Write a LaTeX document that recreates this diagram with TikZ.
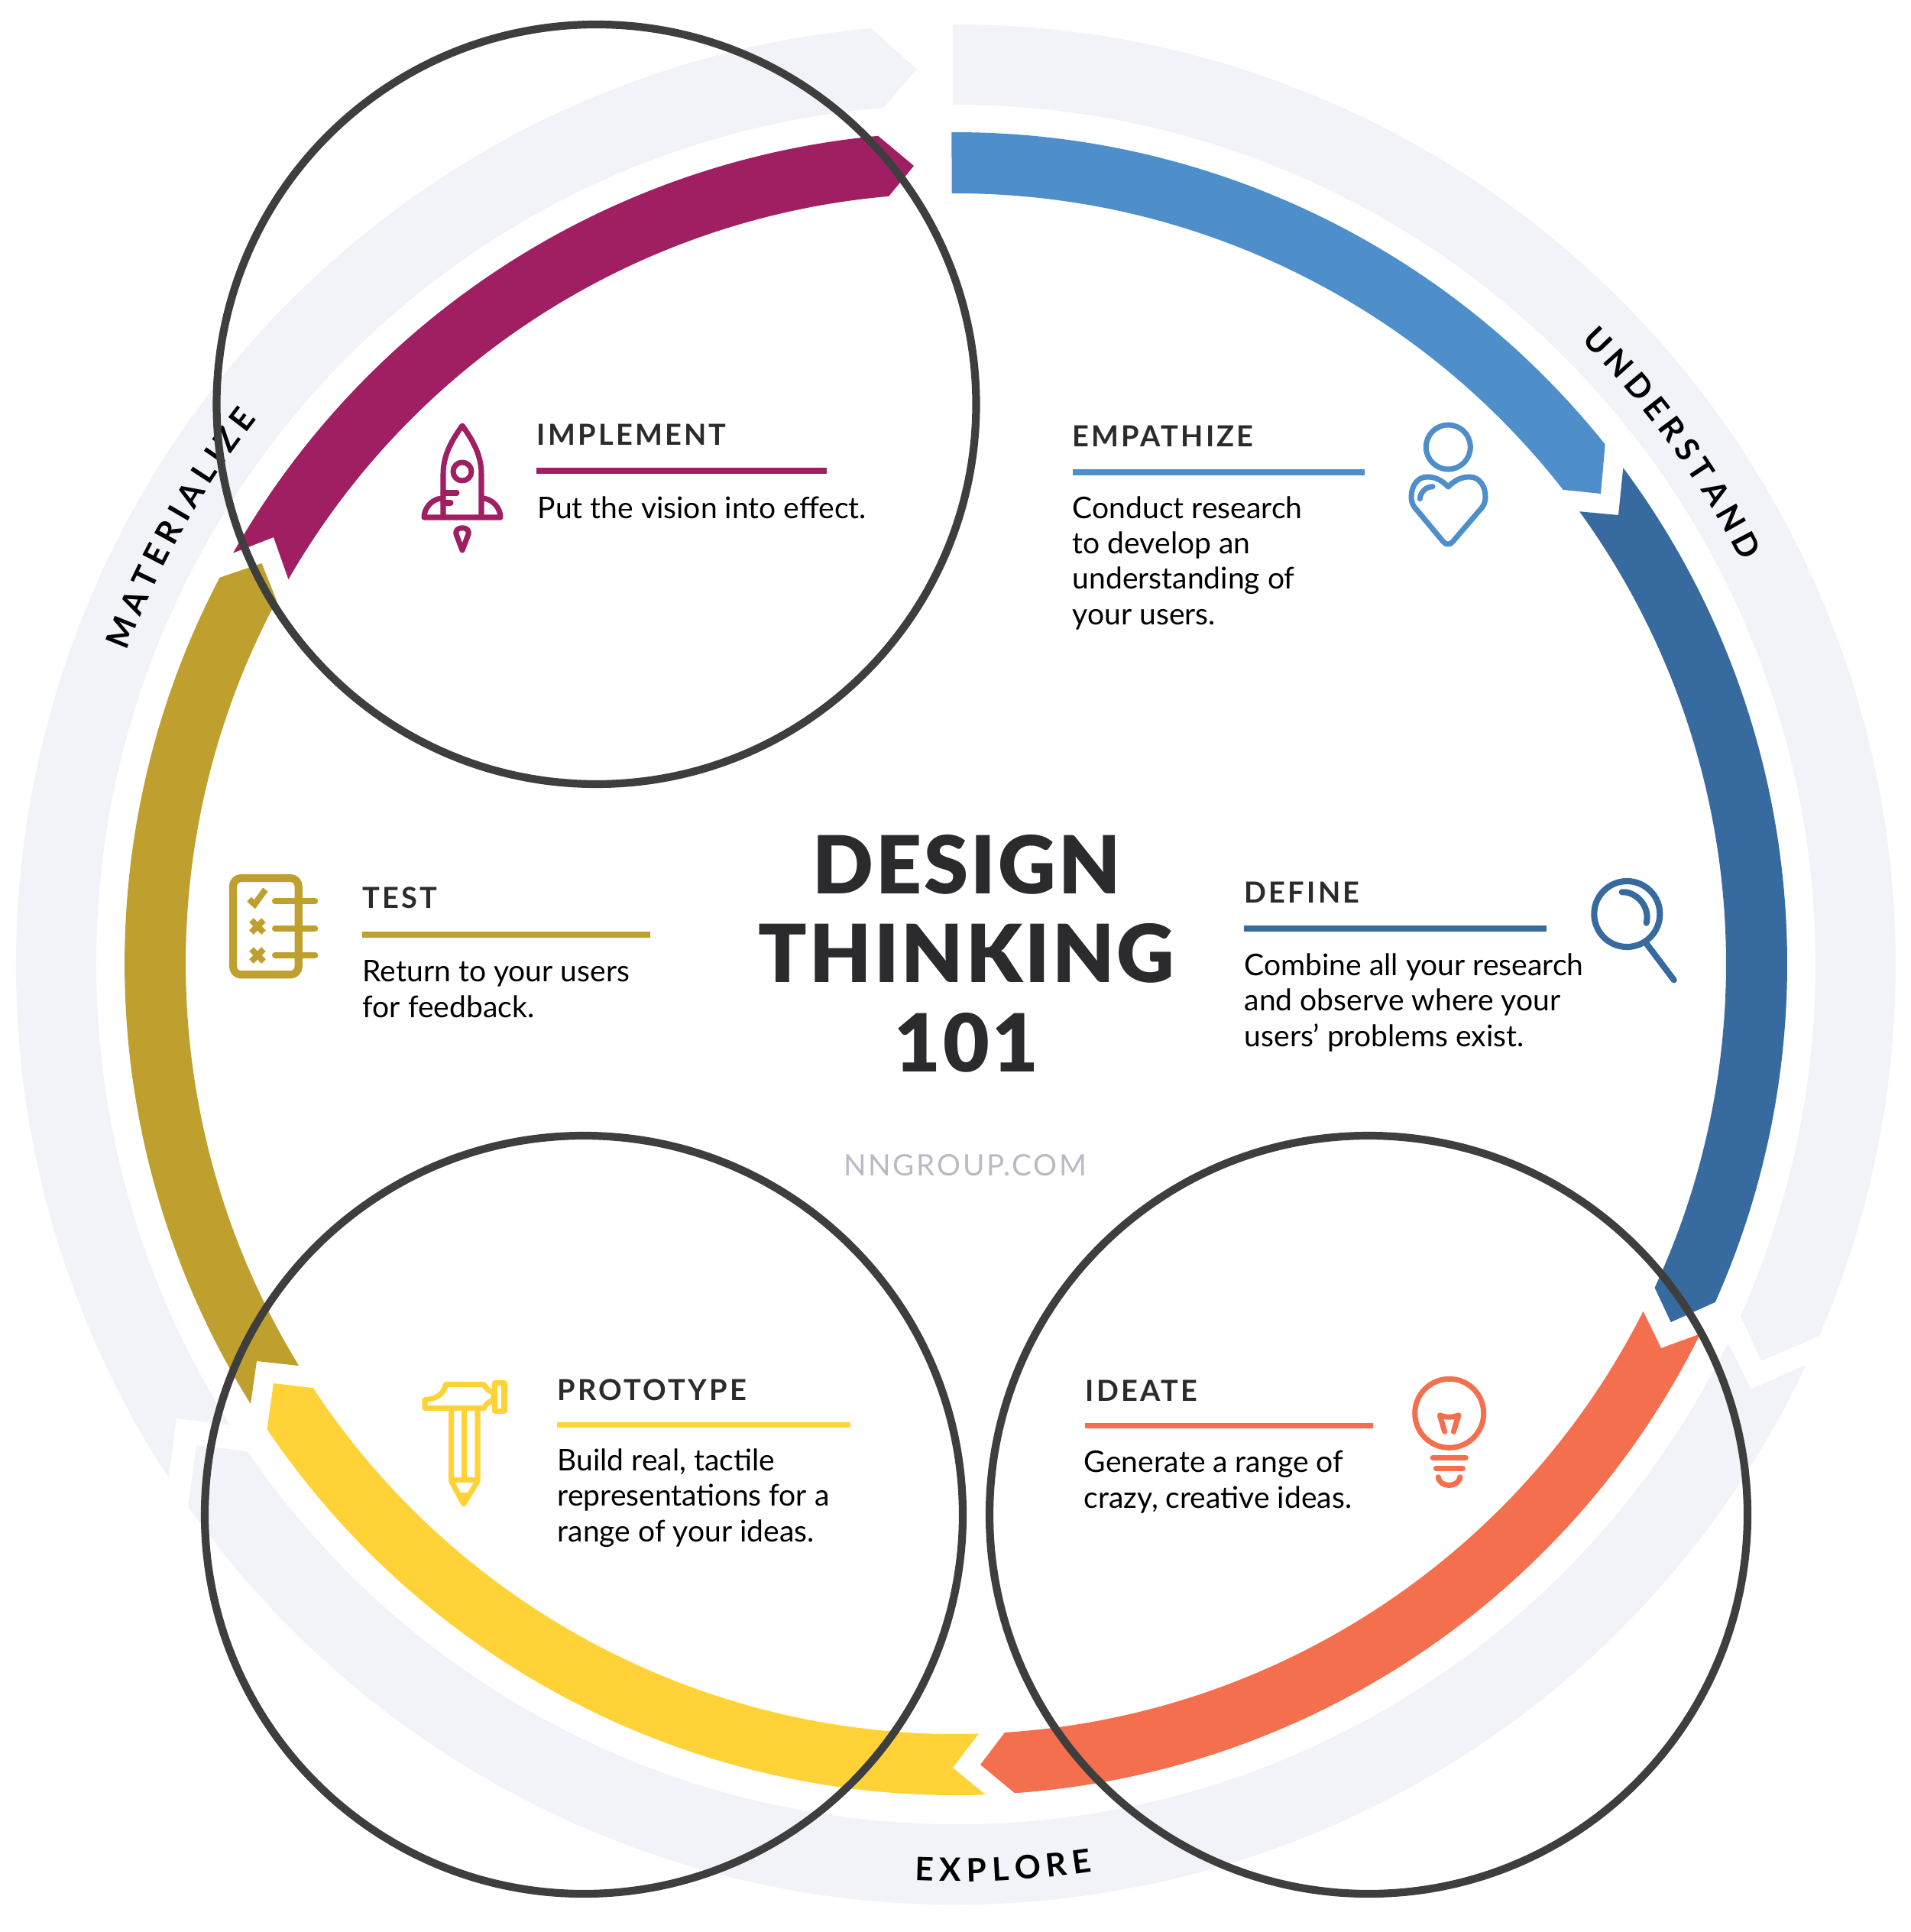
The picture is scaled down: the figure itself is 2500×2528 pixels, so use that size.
\documentclass[tikz,border=0pt]{standalone}
\usepackage{fontspec}
\usetikzlibrary{decorations.text}
\setmainfont{Lato}
\newfontfamily\arclabelfont{Lato}
\newfontfamily\headfont[LetterSpace=8.5]{Lato}
\newfontfamily\titlefont[LetterSpace=3]{Lato Black}
\newfontfamily\sitefont[LetterSpace=7]{Lato}
\definecolor{paleband}{HTML}{F2F3F9}
\definecolor{empathizec}{HTML}{4D8ECB}
\definecolor{definec}{HTML}{376A9E}
\definecolor{ideatec}{HTML}{F46F4E}
\definecolor{prototypec}{HTML}{FFD337}
\definecolor{testc}{HTML}{BFA02E}
\definecolor{implementc}{HTML}{A01F62}
\definecolor{ringc}{HTML}{3E3E3E}
\definecolor{inkc}{HTML}{2B2B2D}
\definecolor{sitec}{HTML}{B9BAC3}
\tikzset{
    ring/.style={draw=ringc,line width=2.9pt},
    headtext/.style={anchor=base west,inner sep=0pt,text=inkc,font=\headfont\bfseries\fontsize{10.8}{12}\selectfont},
    bodytext/.style={anchor=base west,inner sep=0pt,align=left,text=black,font=\fontsize{11.1}{13.1}\selectfont},
    rulebar/.style={line width=2pt},
    titletext/.style={inner sep=0pt,anchor=base,text=inkc,font=\titlefont\fontsize{29.8}{34}\selectfont},
    icon/.style={line width=2pt,line cap=round,line join=round}
}
\newcommand{\paleout}{1230}
\newcommand{\palein}{1125}
\newcommand{\bandout}{1088}
\newcommand{\bandin}{1008}
\newcommand{\arcband}[9]{\fill[#1] ([shift={(c)}]#4:#2) arc (#4:#5:#2) -- #8 -- ([shift={(c)}]#6:#3) arc (#6:#7:#3) #9 -- cycle;}
\begin{document}
\begin{tikzpicture}[x=0.01cm,y=-0.01cm]
	\useasboundingbox (0,0) rectangle (2500,2528);
	\coordinate (c) at (1251,1262);

	\arcband{paleband}{\paleout}{\palein}{-90.2}{23.28}{24.12}{-90.2}{(2305,1780.7)}{}
	\arcband{paleband}{\paleout}{\palein}{25.19}{144.78}{145.5}{26.08}{(257,1890.7)}{-- (2291.7,1817.7)}
	\arcband{paleband}{\paleout}{\palein}{146.9}{264.82}{265.15}{147.62}{(1200,90.6)}{-- (231,1856)}

	\coordinate (c) at (1251,1261);
	\arcband{empathizec}{\bandout}{\bandin}{-90.3}{-38.65}{-37.97}{-90.3}{(2095,646)}{}
	\arcband{definec}{\bandout}{\bandin}{-36.61}{24.02}{24.87}{-35.95}{(2186.7,1730)}{-- (2118,674)}
	\arcband{ideatec}{\bandout}{\bandin}{26.43}{85.94}{86.36}{26.82}{(1283,2309)}{-- (2174,1764)}
	\arcband{prototypec}{\bandout}{\bandin}{87.95}{145.95}{146.58}{88.3}{(358,1810)}{-- (1247,2313)}
	\arcband{testc}{\bandout}{\bandin}{148.03}{207.67}{208.13}{148.54}{(342.5,737)}{-- (336,1781)}
	\arcband{implementc}{\bandout}{\bandin}{209.6}{264.63}{265}{209.93}{(1196,217)}{-- (358,703)}

	\path[decorate,decoration={text along path,text align=center,text={|\arclabelfont\bfseries\fontsize{12}{13}\selectfont|{U\kern2.2pt}{N\kern2.2pt}{D\kern2.2pt}{E\kern2.2pt}{R\kern2.2pt}{S\kern2.2pt}{T\kern2.2pt}{A\kern2.2pt}{N\kern2.2pt}D}}] ([shift={(c)}]-56:1155) arc (-56:-16:1155);
	\path[decorate,decoration={text along path,text align=center,text={|\arclabelfont\bfseries\fontsize{12}{13}\selectfont|{E\kern2.2pt}{X\kern2.2pt}{P\kern2.2pt}{L\kern2.2pt}{O\kern2.2pt}{R\kern2.2pt}E}}] ([shift={(c)}]107:1201) arc (107:67:1201);
	\path[decorate,decoration={text along path,text align=center,text={|\arclabelfont\bfseries\fontsize{12}{13}\selectfont|{M\kern2.2pt}{A\kern2.2pt}{T\kern2.2pt}{E\kern2.2pt}{R\kern2.2pt}{I\kern2.2pt}{A\kern2.2pt}{L\kern2.2pt}{I\kern2.2pt}{Z\kern2.2pt}E}}] ([shift={(c)}]189.3:1160) arc (189.3:229.3:1160);

	\node[titletext] (design) at (1265,1169) {DESIGN};
	\node[titletext] (thinking) at (1265,1285.5) {THINKING};
	\node[titletext] (num) at (1265,1402) {101};
	\node[inner sep=0pt,anchor=base,text=sitec,font=\sitefont\fontsize{11}{12}\selectfont] (site) at (1263,1538) {NNGROUP.COM};

	\node[headtext] (implementhead) at (702,582.5) {IMPLEMENT};
	\draw[rulebar,implementc] (702,616) -- (1082,616);
	\node[bodytext] (implementbody) at (703,678) {Put the vision into effect.};

	\node[headtext] (empathizehead) at (1403,584.5) {EMPATHIZE};
	\draw[rulebar,empathizec] (1404,618) -- (1786,618);
	\node[bodytext] (empathizebody) at (1403,817) {Conduct research\\to develop an\\understanding of\\your users.};

	\node[headtext] (testhead) at (474,1188) {TEST};
	\draw[rulebar,testc] (474,1223) -- (851,1223);
	\node[bodytext] (testbody) at (474,1331) {Return to your users\\for feedback.};

	\node[headtext] (definehead) at (1628,1181.5) {DEFINE};
	\draw[rulebar,definec] (1628,1215) -- (2024,1215);
	\node[bodytext] (definebody) at (1628,1369) {Combine all your research\\and observe where your\\users’ problems exist.};

	\node[headtext] (prototypehead) at (729,1832) {PROTOTYPE};
	\draw[rulebar,prototypec] (729,1864) -- (1113,1864);
	\node[bodytext] (prototypebody) at (729,2017) {Build real, tactile\\representations for a\\range of your ideas.};

	\node[headtext] (ideatehead) at (1420,1833) {IDEATE};
	\draw[rulebar,ideatec] (1420,1865) -- (1797,1865);
	\node[bodytext] (ideatebody) at (1418,1973) {Generate a range of\\crazy, creative ideas.};

	\draw[icon,implementc] (580,677) -- (580,620) .. controls (580,595) and (592,575) .. (605,557) .. controls (618,575) and (630,595) .. (630,620) -- (630,677);
	\draw[icon,implementc] (555,677) -- (655,677) .. controls (655,665) and (645,653) .. (632,652) (555,677) .. controls (555,665) and (565,653) .. (578,652);
	\draw[icon,implementc] (605,617) circle (12);
	\draw[icon,implementc] (580,645) -- (598,645) (580,658) -- (590,658);
	\draw[icon,implementc] (605,720) -- (597,699) .. controls (594,688) and (616,688) .. (613,699) -- cycle;

	\draw[icon,empathizec] (1895.3,585) circle (29);
	\draw[icon,empathizec] (1895.3,637) .. controls (1885,626) and (1875,624) .. (1868,624) .. controls (1855,624) and (1847,636) .. (1847,650) .. controls (1847,658) and (1850,663) .. (1854,667) -- (1889,709) .. controls (1892,713) and (1898,713) .. (1901,709) -- (1937,667) .. controls (1941,663) and (1944,658) .. (1944,650) .. controls (1944,636) and (1936,624) .. (1923,624) .. controls (1916,624) and (1906,626) .. cycle;
	\draw[icon,empathizec] (1875,636.7) .. controls (1866,637) and (1859,644) .. (1858.3,652.7);

	\draw[icon,definec,line width=2.3pt] (2129.3,1196) circle (43);
	\draw[icon,definec,line width=2.3pt] (2122.7,1167.3) .. controls (2140,1166) and (2160,1185) .. (2154.7,1207.7);
	\draw[icon,definec,line width=2.3pt] (2155,1235) -- (2190.7,1282.3);

	\draw[icon,ideatec] (1896.7,1849.3) circle (45);
	\draw[icon,ideatec] (1890.7,1873.3) -- (1884.3,1851.7) .. controls (1892,1855) and (1901,1855) .. (1909,1851.7) -- (1902.3,1873.3);
	\draw[icon,ideatec] (1875,1907.3) -- (1918.3,1907.3) (1879.3,1921.3) -- (1914.3,1921.3);
	\draw[icon,ideatec] (1882.3,1932.7) .. controls (1884,1947) and (1909,1947) .. (1910.7,1932.7);

	\draw[icon,prototypec] (556,1842.7) -- (633.3,1842.7) .. controls (637,1836) and (640,1833) .. (646,1833) -- (646,1821) .. controls (640,1821) and (637,1818) .. (633.3,1811.7) -- (583.3,1811.7) .. controls (580,1826) and (570,1830) .. (556,1831.7) -- cycle;
	\draw[icon,prototypec] (647.7,1809) rectangle (660,1846);
	\draw[icon,prototypec] (590.7,1843) -- (590.7,1938.3) -- (606.7,1968) -- (625,1938.3) -- (625,1843) (607.7,1843) -- (607.7,1936.7) (590.7,1936.7) -- (625,1936.7) (601,1956.7) -- (613.3,1956.7);

	\draw[icon,testc,line width=2.9pt,rounded corners=3pt] (305,1149) rectangle (390.7,1275.3);
	\draw[icon,testc,line width=2.3pt] (360,1179.3) -- (412.3,1179.3) (360,1214.7) -- (412.3,1214.7) (360,1249.7) -- (412.3,1249.7);
	\draw[testc,line width=2.3pt] (326,1176.7) -- (333.3,1183.3) -- (347.3,1164);
	\draw[testc,line width=2.3pt] (329,1204) -- (345,1220) (345,1204) -- (329,1220) (329,1242) -- (345,1258) (345,1242) -- (329,1258);

	\draw[ring] (780.5,529) circle (497);
	\draw[ring] (764,1982) circle (496);
	\draw[ring] (1791,1982) circle (496);
\end{tikzpicture}
\end{document}
